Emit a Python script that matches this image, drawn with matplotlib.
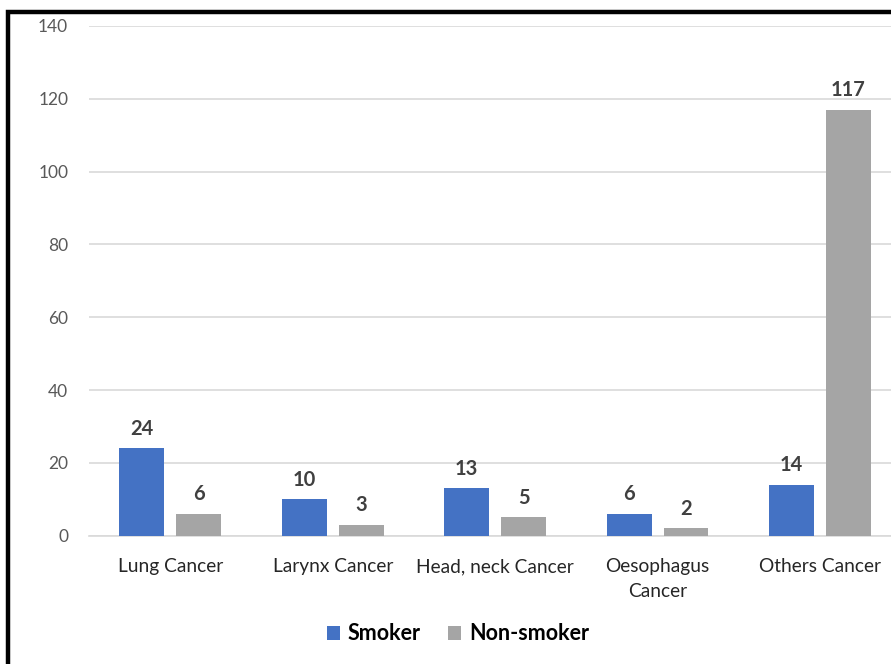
import matplotlib.pyplot as plt
import numpy as np
from matplotlib.patches import Rectangle

categories = ["Lung Cancer", "Larynx Cancer", "Head, neck Cancer",
              "Oesophagus\nCancer", "Others Cancer"]
smoker = [24, 10, 13, 6, 14]
non_smoker = [6, 3, 5, 2, 117]
y_ticks = [0, 20, 40, 60, 80, 100, 120, 140]

plt.rcParams['font.family'] = ['Lato', 'DejaVu Sans']

W, H = 891, 664
fig = plt.figure(figsize=(W / 100, H / 100), dpi=100)
# plot area runs past the right edge (the original is cropped)
ax = fig.add_axes([89 / W, (H - 535.7) / H, (901.3 - 89) / W, (535.7 - 26) / H])

x = np.arange(len(categories))
w = 0.276
off = 0.175
b1 = ax.bar(x - off, smoker, w, color='#4472C4', label='Smoker', zorder=3)
b2 = ax.bar(x + off, non_smoker, w, color='#A5A5A5', label='Non-smoker', zorder=3)

for bars in (b1, b2):
    for r in bars:
        ax.annotate(str(int(r.get_height())),
                    (r.get_x() + r.get_width() / 2, r.get_height()),
                    xytext=(0, 7), textcoords='offset points',
                    ha='center', va='bottom', fontsize=14.5, fontweight='bold',
                    color='#404040')

ax.set_xlim(-0.5, len(categories) - 0.5)
ax.set_ylim(0, 140)
ax.set_yticks(y_ticks)
ax.set_xticks(x)
ax.set_xticklabels(categories, linespacing=1.6)
ax.tick_params(axis='both', length=0, labelsize=12.5, colors='#595959')
ax.tick_params(axis='x', labelcolor='#262626', pad=16, labelsize=13.8)
ax.tick_params(axis='y', pad=15)
ax.grid(axis='y', color='#D9D9D9', linewidth=1.2, zorder=0)
for s in ['top', 'right', 'left']:
    ax.spines[s].set_visible(False)
ax.spines['bottom'].set_color('#D9D9D9')
ax.spines['bottom'].set_linewidth(1.2)

leg = fig.legend(handles=[b1, b2], loc='center', bbox_to_anchor=(458 / W, (H - 634) / H),
                 ncol=2, frameon=False, handlelength=0.6, handleheight=0.6,
                 handletextpad=0.35, columnspacing=1.3,
                 prop={'size': 15.5, 'weight': 'bold'})

# black frame, cropped on right and bottom
fig.patches.append(Rectangle((8 / W, -0.1), 1.2, (H - 12) / H + 0.1,
                             transform=fig.transFigure, fill=False,
                             edgecolor='black', linewidth=3.2))

fig.savefig('out.png', dpi=100)
